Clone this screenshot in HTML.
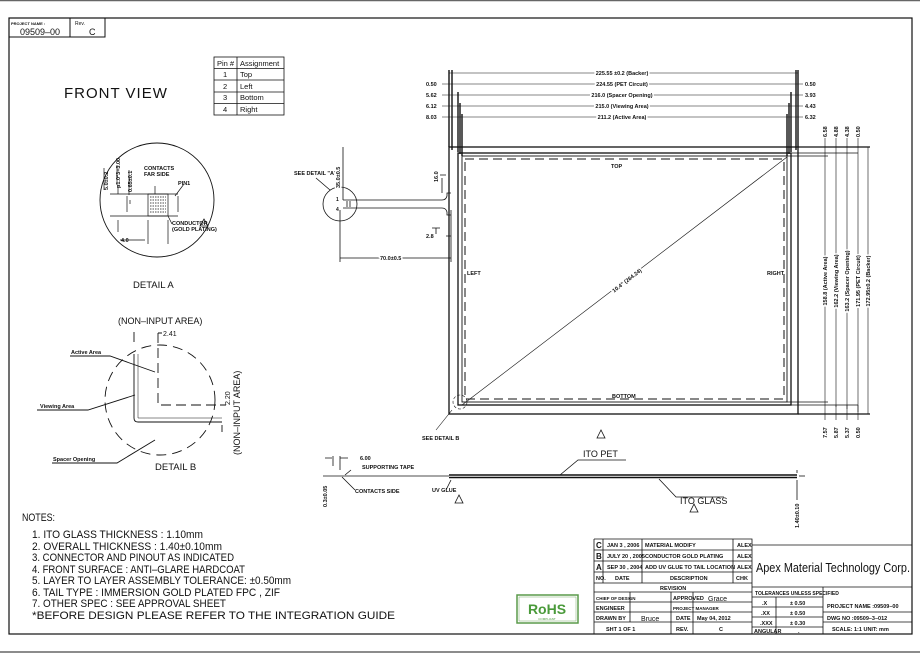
<!DOCTYPE html>
<html><head><meta charset="utf-8"><style>
html,body{margin:0;padding:0;background:#fff;}
svg{display:block;}
text{font-family:"Liberation Sans",sans-serif;fill:#111;}
.s{font-size:5.5px;font-weight:bold;}
.m{font-size:7px;}
</style></head><body>
<svg width="920" height="653" viewBox="0 0 920 653" xmlns="http://www.w3.org/2000/svg" stroke="#111" fill="none">
<line x1="0" y1="0.5" x2="920" y2="0.5" stroke="#666" stroke-width="1.5"/>
<line x1="0" y1="652" x2="920" y2="652" stroke="#666" stroke-width="1.5"/>
<rect x="9" y="18" width="903" height="616" stroke-width="1.2"/>
<path d="M9 37H105V18M70 18V37" stroke-width="1"/>
<text x="11" y="25" class="s" stroke="none" style="font-size:4px">PROJECT NAME :</text>
<text x="20" y="35" stroke="none" style="font-size:9px">09509–00</text>
<text x="75" y="25" stroke="none" style="font-size:5px">Rev.</text>
<text x="89" y="35" stroke="none" style="font-size:9px">C</text>
<text x="64" y="98" stroke="none" style="font-size:15px;letter-spacing:1px">FRONT  VIEW</text>
<g stroke-width="0.8">
<rect x="214" y="57" width="70" height="58"/>
<path d="M214 68.5H284M214 80H284M214 92H284M214 103.5H284M237 57V115" />
</g>
<g stroke="none" style="font-size:7.5px">
<text x="217" y="66">Pin  #</text><text x="240" y="66">Assignment</text>
<text x="223" y="77">1</text><text x="240" y="77">Top</text>
<text x="223" y="89">2</text><text x="240" y="89">Left</text>
<text x="223" y="100">3</text><text x="240" y="100">Bottom</text>
<text x="223" y="112">4</text><text x="240" y="112">Right</text>
</g>
<circle cx="157" cy="200" r="57" stroke-width="0.9"/>
<g stroke-width="0.7">
<rect x="148" y="194" width="20" height="22"/>
<path d="M150 197h16M150 200h16M150 203h16M150 206h16M150 209h16M150 212h16" stroke-dasharray="1.5 1"/>
<path d="M110 194H178M110 216H178M178 196V212M118 185V194M127 196V212M130 200V204M118 220V232M120 240H145M148 220V244M168 220V244M155 186V194M175 196L184 184M168 216L172 224"/>
<path d="M104 168V190" /><path d="M117 165V185"/><path d="M129 170V195"/>
</g>
<g stroke="none" class="s">
<text transform="translate(108 190) rotate(-90)">5.0±0.2</text>
<text transform="translate(120 188) rotate(-90)">p1.0*3=3.00</text>
<text transform="translate(132 192) rotate(-90)">0.65±0.1</text>
<text x="144" y="170">CONTACTS</text><text x="144" y="176">FAR SIDE</text>
<text x="178" y="185">PIN1</text>
<text x="172" y="225">CONDUCTOR</text><text x="172" y="231">(GOLD PLATING)</text>
<text x="121" y="242">4.0</text>
</g>
<path d="M200 226l4 -7 4 7z" stroke-width="0.8"/>
<text x="133" y="288" stroke="none" style="font-size:9.5px">DETAIL A</text>
<text x="118" y="324" stroke="none" style="font-size:9px">(NON–INPUT AREA)</text>
<text transform="translate(240 455) rotate(-90)" stroke="none" style="font-size:9px">(NON–INPUT AREA)</text>
<circle cx="160" cy="400" r="55" stroke-width="0.9" stroke-dasharray="10 6"/>
<g stroke-width="0.9">
<path d="M134 354V418Q134 422 138 422H222"/>
<path d="M138 354V418H222" stroke-width="0.5"/>
<path d="M158 333V405H220" stroke-dasharray="10 5"/>
<path d="M158 333H162M222 425V432M220 405H226M134 332V342"/>
<path d="M70 356H110L155 372M37 410H88L135 395M52 463H117L155 440"/>
</g>
<g stroke="none" class="m">
<text x="163" y="336">2.41</text>
<text transform="translate(230 405) rotate(-90)">2.20</text>
<text x="71" y="354" class="s">Active Area</text>
<text x="40" y="408" class="s">Viewing Area</text>
<text x="53" y="461" class="s">Spacer Opening</text>
</g>
<text x="155" y="470" stroke="none" style="font-size:9.5px">DETAIL B</text>
<g stroke-width="1.3">
<rect x="449" y="147" width="349" height="267"/>
<rect x="458" y="153" width="333" height="252"/>
<rect x="462" y="156" width="325" height="246" stroke-width="0.9"/>
<rect x="465" y="159" width="319" height="240" stroke-width="1" stroke-dasharray="9 5"/>
</g>
<path d="M452 70V150M449 70V147M458 92V152M460 103V154M462 114V156M796 70V150M798 70V147M791 92V152M789 103V154M787 114V156" stroke-width="1.4"/>
<path d="M798 147H870M798 414H870" stroke-width="1.2"/>
<path d="M791 153H858M787 156H828M791 405H858M787 402H828" stroke-width="0.7"/>
<g stroke-width="0.6">
<path d="M449 73H798M452 84H796M458 95H791M460 106H789M462 117H787"/>
<path d="M442 84H452M442 95H458M442 106H460M442 117H462M796 84H803M791 95H803M789 106H803M787 117H803"/>
<path d="M825 157V405M836 155V407M847 152V409M858 148V412M868 147V414"/>
<path d="M825 138V157M836 138V155M847 138V152M858 138V148M825 405V420M836 405V420M847 405V420M858 405V420"/>
<path d="M462 405L787 157"/>
</g>
<g stroke="none" class="s" text-anchor="middle">
<text x="622" y="75" stroke="#fff" stroke-width="3" style="paint-order:stroke">225.55 ±0.2 (Backer)</text>
<text x="622" y="86" stroke="#fff" stroke-width="3" style="paint-order:stroke">224.55 (PET Circuit)</text>
<text x="622" y="97" stroke="#fff" stroke-width="3" style="paint-order:stroke">216.0 (Spacer Opening)</text>
<text x="622" y="108" stroke="#fff" stroke-width="3" style="paint-order:stroke">215.0 (Viewing Area)</text>
<text x="622" y="119" stroke="#fff" stroke-width="3" style="paint-order:stroke">211.2 (Active Area)</text>
</g>
<g stroke="none" class="s">
<text x="426" y="86">0.50</text><text x="426" y="97">5.62</text><text x="426" y="108">6.12</text><text x="426" y="119">8.03</text>
<text x="805" y="86">0.50</text><text x="805" y="97">3.93</text><text x="805" y="108">4.43</text><text x="805" y="119">6.32</text>
<text transform="translate(827 137) rotate(-90)">6.58</text>
<text transform="translate(838 137) rotate(-90)">4.88</text>
<text transform="translate(849 137) rotate(-90)">4.38</text>
<text transform="translate(860 137) rotate(-90)">0.50</text>
<text transform="translate(827 438) rotate(-90)">7.57</text>
<text transform="translate(838 438) rotate(-90)">5.87</text>
<text transform="translate(849 438) rotate(-90)">5.37</text>
<text transform="translate(860 438) rotate(-90)">0.50</text>
</g>
<g stroke="none" class="s" text-anchor="middle">
<text transform="translate(827 281) rotate(-90)" stroke="#fff" stroke-width="3" style="paint-order:stroke">158.8 (Active Area)</text>
<text transform="translate(838 281) rotate(-90)" stroke="#fff" stroke-width="3" style="paint-order:stroke">162.2 (Viewing Area)</text>
<text transform="translate(849 281) rotate(-90)" stroke="#fff" stroke-width="3" style="paint-order:stroke">163.2 (Spacer Opening)</text>
<text transform="translate(860 281) rotate(-90)" stroke="#fff" stroke-width="3" style="paint-order:stroke">171.95 (PET Circuit)</text>
<text transform="translate(870 281) rotate(-90)" stroke="#fff" stroke-width="3" style="paint-order:stroke">172.95±0.2 (Backer)</text>
<text transform="translate(628 282) rotate(-37.7)" stroke="#fff" stroke-width="3" style="paint-order:stroke">10.4" (264.24)</text>
</g>
<g stroke="none" class="s">
<text x="611" y="168">TOP</text><text x="467" y="275">LEFT</text><text x="767" y="275">RIGHT</text><text x="612" y="398">BOTTOM</text>
<text x="294" y="175">SEE DETAIL "A"</text>
<text x="422" y="440">SEE DETAIL B</text>
</g>
<circle cx="460" cy="402" r="7" stroke-width="0.6" stroke-dasharray="3 2"/>
<path d="M436 430L452 410" stroke-width="0.6"/>
<circle cx="340" cy="204" r="17" stroke-width="0.8"/>
<g stroke-width="0.8">
<path d="M343 200H442Q446 200 447 196V193H451M343 208H442Q446 208 447 212V215H451"/>
<path d="M347 201V207M350 201V207M343 147V200M340 210V262M451 210V262M340 258H451M442 178V193M440 175H446M436 228V234M432 228H440M446 236H451M316 178L330 190"/>
</g>
<g stroke="none" class="s">
<text x="336" y="201" style="font-size:5px">1</text><text x="336" y="211" style="font-size:5px">4</text>
<text transform="translate(340 188) rotate(-90)" stroke="#fff" stroke-width="3" style="paint-order:stroke">35.0±0.5</text>
<text transform="translate(438 182) rotate(-90)">16.0</text>
<text x="426" y="238">2.8</text>
<text x="380" y="260" stroke="#fff" stroke-width="3" style="paint-order:stroke">70.0±0.5</text>
</g>
<g stroke-width="0.8">
<path d="M323 476H449"/>
<path d="M449 475H797M449 477.5H797" stroke-width="1.6"/>
<path d="M799 476H805"/>
<path d="M333 456V466M340 456V470M325 458H332M340 458H348M351 470L345 475M342 477L355 490M451 480L446 490M560 475L578 460H626M659 479L676 497H724"/>
<path d="M597 438l4 -8 4 8z M455 503l4 -8 4 8z M690 512l4 -8 4 8z"/>
<path d="M797 480V500M797 470V473"/>
</g>
<g stroke="none" class="s">
<text x="360" y="460">6.00</text>
<text x="362" y="469">SUPPORTING TAPE</text>
<text x="355" y="493">CONTACTS SIDE</text>
<text x="432" y="492">UV GLUE</text>
<text transform="translate(327 507) rotate(-90)">0.3±0.05</text>
<text transform="translate(799 528) rotate(-90)">1.40±0.10</text>
</g>
<text x="583" y="457" stroke="none" style="font-size:9px">ITO  PET</text>
<text x="680" y="504" stroke="none" style="font-size:9px">ITO  GLASS</text>
<g stroke="none" style="font-size:11px">
<text x="22" y="521" textLength="33" lengthAdjust="spacingAndGlyphs">NOTES:</text>
<text x="32" y="538" textLength="171" lengthAdjust="spacingAndGlyphs">1. ITO GLASS THICKNESS : 1.10mm</text>
<text x="32" y="550" textLength="190" lengthAdjust="spacingAndGlyphs">2. OVERALL THICKNESS : 1.40±0.10mm</text>
<text x="32" y="561" textLength="202" lengthAdjust="spacingAndGlyphs">3. CONNECTOR AND PINOUT AS INDICATED</text>
<text x="32" y="573" textLength="213" lengthAdjust="spacingAndGlyphs">4. FRONT SURFACE : ANTI–GLARE HARDCOAT</text>
<text x="32" y="584" textLength="259" lengthAdjust="spacingAndGlyphs">5. LAYER TO LAYER ASSEMBLY TOLERANCE: ±0.50mm</text>
<text x="32" y="596" textLength="248" lengthAdjust="spacingAndGlyphs">6. TAIL TYPE : IMMERSION GOLD PLATED FPC , ZIF</text>
<text x="32" y="607" textLength="194" lengthAdjust="spacingAndGlyphs">7. OTHER SPEC : SEE APPROVAL SHEET</text>
<text x="32" y="619" textLength="363" lengthAdjust="spacingAndGlyphs">*BEFORE DESIGN PLEASE REFER TO THE INTEGRATION GUIDE</text>
</g>
<rect x="517" y="595" width="61" height="28" stroke="#5a9a4a" stroke-width="1.5"/>
<rect x="519" y="597" width="57" height="24" stroke="#5a9a4a" stroke-width="0.4"/>
<text x="547" y="614" text-anchor="middle" stroke="none" style="font-size:14px;font-weight:bold;fill:#4a9a3a">RoHS</text>
<text x="547" y="620" text-anchor="middle" stroke="none" style="font-size:3px;fill:#4a9a3a">COMPLIANT</text>
<g stroke-width="0.8">
<path d="M594 539H752V634M594 539V634M594 550H752M594 561H752M594 572H752M594 583H752M594 592H752M594 602H752M594 612H752M594 622H752"/>
<path d="M603 539V583M642 539V583M733 539V583"/>
<path d="M630 592V622M671 592V634M693 592V634"/>
<path d="M752 545H912M752 587H912M752 597H823M752 607H823M752 617H823M752 627H823M776 597V634M823 587V634M823 612H912M823 622H912"/>
</g>
<g stroke="none" class="s">
<text x="596" y="548" style="font-size:8px">C</text><text x="607" y="547">JAN 3 , 2006</text><text x="645" y="547">MATERIAL MODIFY</text><text x="737" y="547">ALEX</text>
<text x="596" y="559" style="font-size:8px">B</text><text x="607" y="558">JULY 20 , 2005</text><text x="645" y="558">CONDUCTOR GOLD PLATING</text><text x="737" y="558">ALEX</text>
<text x="596" y="570" style="font-size:8px">A</text><text x="607" y="569">SEP 30 , 2004</text><text x="645" y="569">ADD UV GLUE TO TAIL LOCATION</text><text x="737" y="569">ALEX</text>
<text x="596" y="580">NO.</text><text x="615" y="580">DATE</text><text x="670" y="580">DESCRIPTION</text><text x="736" y="580">CHK</text>
<text x="660" y="590">REVISION</text>
<text x="596" y="600" style="font-size:4.5px">CHIEF OF DESIGN</text><text x="673" y="600">APPROVED</text>
<text x="596" y="610">ENGINEER</text><text x="673" y="610" style="font-size:4.5px">PROJECT MANAGER</text>
<text x="596" y="620">DRAWN BY</text><text x="676" y="620">DATE</text><text x="697" y="620">May 04, 2012</text>
<text x="606" y="631">SHT   1   OF   1</text><text x="676" y="631">REV.</text><text x="719" y="631">C</text>
<text x="755" y="595" style="font-size:5px">TOLERANCES UNLESS SPECIFIED</text>
<text x="762" y="605">.X</text><text x="790" y="605">± 0.50</text>
<text x="761" y="615">.XX</text><text x="790" y="615">± 0.50</text>
<text x="760" y="625">.XXX</text><text x="790" y="625">± 0.30</text>
<text x="754" y="633">ANGULAR</text><text x="798" y="633">.</text>
<text x="827" y="608">PROJECT NAME :09509–00</text>
<text x="827" y="620">DWG NO :09509–3–012</text>
<text x="832" y="631">SCALE: 1:1   UNIT: mm</text>
</g>
<text x="708" y="601" stroke="none" style="font-size:7px">Grace</text>
<text x="641" y="621" stroke="none" style="font-size:7px">Bruce</text>
<text x="756" y="572" stroke="none" style="font-size:12.5px" textLength="154" lengthAdjust="spacingAndGlyphs">Apex Material Technology Corp.</text>
</svg>
</body></html>
